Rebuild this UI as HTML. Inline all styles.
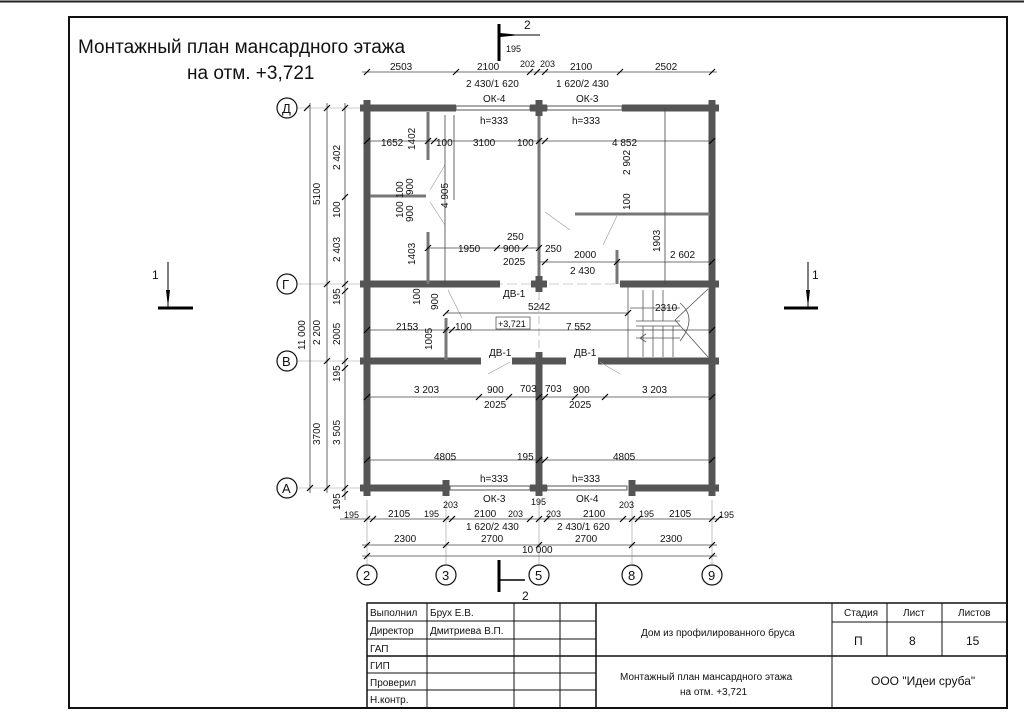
<!DOCTYPE html>
<html><head><meta charset="utf-8"><style>
html,body{margin:0;padding:0;background:#fff;}
svg{display:block;font-family:"Liberation Sans","DejaVu Sans",sans-serif;}
.d{stroke:#444;stroke-width:0.8;fill:none}
.t{stroke:#000;stroke-width:1.2}
.w{stroke:#555;stroke-width:7;fill:none}
.p{stroke:#777;stroke-width:3;fill:none}
.g{stroke:#999;stroke-width:0.6;fill:none}
text{font-size:10px;fill:#111}
.c{fill:#fff;stroke:#111;stroke-width:1.2}
.tb{stroke:#111;stroke-width:1;fill:none}
.s{font-size:9px}
</style></head><body>
<svg width="1024" height="724" viewBox="0 0 1024 724">
<rect x="0" y="0" width="1024" height="724" fill="#fff"/>
<line x1="0" y1="1.5" x2="1024" y2="1.5" stroke="#222" stroke-width="2"/>
<rect x="69" y="17" width="938" height="691" fill="none" stroke="#111" stroke-width="2"/>
<text x="78" y="53" style="font-size:19px">Монтажный план мансардного этажа</text>
<text x="187" y="79" style="font-size:19px">на отм. +3,721</text>

<!-- section marks -->
<line x1="499" y1="24" x2="499" y2="61" stroke="#000" stroke-width="3"/>
<line x1="500" y1="35" x2="540" y2="35" stroke="#000" stroke-width="1"/><polygon points="500,33 520,35 500,37" fill="#000"/>
<text x="524" y="29" style="font-size:12px">2</text>
<line x1="499" y1="560" x2="499" y2="592" stroke="#000" stroke-width="3"/>
<line x1="500" y1="580" x2="525" y2="580" stroke="#000" stroke-width="1.5"/>
<text x="522" y="600" style="font-size:12px">2</text>
<line x1="168" y1="262" x2="168" y2="307" stroke="#000" stroke-width="1"/><polygon points="166,290 168,307 170,290" fill="#000"/>
<line x1="158" y1="308" x2="193" y2="308" stroke="#000" stroke-width="3"/>
<text x="152" y="279" style="font-size:12px">1</text>
<line x1="808" y1="262" x2="808" y2="307" stroke="#000" stroke-width="1"/><polygon points="806,290 808,307 810,290" fill="#000"/>
<line x1="784" y1="308" x2="818" y2="308" stroke="#000" stroke-width="3"/>
<text x="812" y="279" style="font-size:12px">1</text>

<!-- grid lines -->
<g class="g">
<line x1="298" y1="108" x2="367" y2="108"/><line x1="298" y1="284" x2="367" y2="284"/>
<line x1="298" y1="361" x2="367" y2="361"/><line x1="298" y1="488" x2="367" y2="488"/>
<line x1="367" y1="500" x2="367" y2="564"/><line x1="446" y1="500" x2="446" y2="564"/>
<line x1="539" y1="500" x2="539" y2="564"/><line x1="632" y1="500" x2="632" y2="564"/>
<line x1="712" y1="500" x2="712" y2="564"/>
<line x1="539" y1="280" x2="539" y2="360" stroke-dasharray="8 4"/>
<line x1="367" y1="284" x2="712" y2="284" stroke-dasharray="10 4"/>
</g>
<g>
<circle class="c" cx="287" cy="108" r="10"/><text x="282" y="113" style="font-size:13px">Д</text>
<circle class="c" cx="287" cy="284" r="10"/><text x="282" y="289" style="font-size:13px">Г</text>
<circle class="c" cx="287" cy="361" r="10"/><text x="282" y="366" style="font-size:13px">В</text>
<circle class="c" cx="287" cy="488" r="10"/><text x="282" y="493" style="font-size:13px">А</text>
<circle class="c" cx="367" cy="575" r="10"/><text x="363" y="580" style="font-size:13px">2</text>
<circle class="c" cx="446" cy="575" r="10"/><text x="442" y="580" style="font-size:13px">3</text>
<circle class="c" cx="539" cy="575" r="10"/><text x="535" y="580" style="font-size:13px">5</text>
<circle class="c" cx="632" cy="575" r="10"/><text x="628" y="580" style="font-size:13px">8</text>
<circle class="c" cx="712" cy="575" r="10"/><text x="708" y="580" style="font-size:13px">9</text>
</g>

<!-- walls -->
<g class="w">
<line x1="367" y1="100" x2="367" y2="496"/><line x1="712" y1="100" x2="712" y2="496"/>
<line x1="360" y1="108" x2="456" y2="108"/><line x1="622" y1="108" x2="719" y2="108"/>
<line x1="530" y1="108" x2="547" y2="108"/>
<line x1="360" y1="284" x2="500" y2="284"/><line x1="531" y1="284" x2="547" y2="284"/><line x1="620" y1="284" x2="719" y2="284"/>
<line x1="360" y1="361" x2="481" y2="361"/><line x1="512" y1="361" x2="566" y2="361"/><line x1="598" y1="361" x2="719" y2="361"/>
<line x1="360" y1="488" x2="446" y2="488"/><line x1="530" y1="488" x2="547" y2="488"/><line x1="631" y1="488" x2="719" y2="488"/>
<line x1="539" y1="352" x2="539" y2="496"/><line x1="539" y1="276" x2="539" y2="292"/><line x1="539" y1="100" x2="539" y2="116"/>
<line x1="446" y1="480" x2="446" y2="496"/><line x1="632" y1="480" x2="632" y2="496"/>
</g>
<!-- windows -->
<g stroke="#555" stroke-width="1" fill="none">
<rect x="456" y="106" width="74" height="4"/><rect x="547" y="106" width="75" height="4"/>
<rect x="450" y="486" width="80" height="4"/><rect x="547" y="486" width="80" height="4"/>
</g>
<!-- partitions -->
<g class="p">
<line x1="428" y1="112" x2="428" y2="160"/><line x1="428" y1="232" x2="428" y2="284"/>
<line x1="370" y1="196" x2="426" y2="196"/>
<line x1="539" y1="116" x2="539" y2="276"/>
<line x1="575" y1="214" x2="710" y2="214"/>
<line x1="617" y1="250" x2="617" y2="284"/>
<line x1="446" y1="318" x2="446" y2="360"/>
</g>
<!-- door swing lines -->
<g class="g" stroke="#666">
<line x1="430" y1="190" x2="445" y2="165"/><line x1="430" y1="202" x2="445" y2="225"/>
<line x1="545" y1="212" x2="570" y2="230"/><line x1="617" y1="216" x2="603" y2="245"/>
<line x1="488" y1="374" x2="510" y2="362"/><line x1="620" y1="374" x2="600" y2="362"/>
<line x1="448" y1="290" x2="462" y2="318"/>
</g>
<!-- stairs -->
<g stroke="#555" stroke-width="0.8" fill="none">
<line x1="628" y1="284" x2="628" y2="358"/>
<line x1="636" y1="326" x2="680" y2="326"/><line x1="636" y1="321" x2="680" y2="321"/>
<line x1="643" y1="290" x2="643" y2="321"/><line x1="653" y1="290" x2="653" y2="321"/><line x1="663" y1="290" x2="663" y2="321"/>
<line x1="643" y1="326" x2="643" y2="357"/><line x1="653" y1="326" x2="653" y2="357"/><line x1="663" y1="326" x2="663" y2="357"/><line x1="673" y1="326" x2="673" y2="357"/>
<line x1="630" y1="308" x2="680" y2="308"/><line x1="636" y1="338" x2="680" y2="338"/>
<line x1="675" y1="320" x2="708" y2="357"/><line x1="675" y1="320" x2="708" y2="289"/>
<path d="M680,303 Q698,318 680,341"/>
<line x1="640" y1="338" x2="646" y2="334"/><line x1="640" y1="338" x2="646" y2="342"/>
</g>

<!-- dimension lines -->
<g class="d">
<line x1="362" y1="72" x2="717" y2="72"/>
<line x1="310" y1="103" x2="310" y2="493"/><line x1="327" y1="103" x2="327" y2="493"/><line x1="345" y1="103" x2="345" y2="500"/>
<line x1="340" y1="519" x2="719" y2="519"/>
<line x1="362" y1="545" x2="717" y2="545"/><line x1="362" y1="556" x2="717" y2="556"/>
<line x1="367" y1="141" x2="712" y2="141"/>
<line x1="428" y1="248" x2="539" y2="248"/>
<line x1="539" y1="262" x2="712" y2="262"/>
<line x1="367" y1="330" x2="712" y2="330"/>
<line x1="446" y1="313" x2="628" y2="313"/>
<line x1="367" y1="397" x2="712" y2="397"/>
<line x1="367" y1="460" x2="712" y2="460"/>
<line x1="445" y1="115" x2="445" y2="284"/><line x1="454" y1="115" x2="454" y2="200"/>
<line x1="665" y1="108" x2="665" y2="284"/>
</g>
<g class="t">
<path d="M364,75 l6,-6 M453,75 l6,-6 M527,75 l6,-6 M534,75 l6,-6 M542,75 l6,-6 M617,75 l6,-6 M709,75 l6,-6"/>
<path d="M304,111 l6,-6 M307,491 l6,-6 M324,111 l6,-6 M324,287 l6,-6 M324,364 l6,-6 M324,491 l6,-6"/>
<path d="M342,111 l6,-6 M342,200 l6,-6 M342,287 l6,-6 M342,294 l6,-6 M342,364 l6,-6 M342,371 l6,-6 M342,491 l6,-6 M342,497 l6,-6"/>
<path d="M364,522 l6,-6 M370,522 l6,-6 M443,522 l6,-6 M449,522 l6,-6 M527,522 l6,-6 M536,522 l6,-6 M544,522 l6,-6 M620,522 l6,-6 M629,522 l6,-6 M635,522 l6,-6 M709,522 l6,-6 M715,522 l6,-6"/>
<path d="M364,548 l6,-6 M443,548 l6,-6 M536,548 l6,-6 M629,548 l6,-6 M709,548 l6,-6 M364,559 l6,-6 M709,559 l6,-6"/>
<path d="M364,144 l6,-6 M425,144 l6,-6 M431,144 l6,-6 M536,144 l6,-6 M542,144 l6,-6 M709,144 l6,-6"/>
<path d="M364,333 l6,-6 M443,333 l6,-6 M449,333 l6,-6 M709,333 l6,-6 M443,316 l6,-6 M625,316 l6,-6"/>
<path d="M364,400 l6,-6 M476,400 l6,-6 M506,400 l6,-6 M536,400 l6,-6 M542,400 l6,-6 M572,400 l6,-6 M602,400 l6,-6 M709,400 l6,-6"/>
<path d="M364,463 l6,-6 M536,463 l6,-6 M542,463 l6,-6 M709,463 l6,-6"/>
<path d="M425,251 l6,-6 M494,251 l6,-6 M522,251 l6,-6 M536,251 l6,-6 M542,265 l6,-6 M614,265 l6,-6 M709,265 l6,-6"/>
</g>

<!-- dimension text -->
<text x="390" y="70">2503</text><text x="477" y="70">2100</text><text x="520" y="67" class="s">202</text><text x="540" y="67" class="s">203</text><text x="570" y="70">2100</text><text x="655" y="70">2502</text>
<text x="506" y="52" class="s">195</text>
<text x="466" y="87">2 430/1 620</text><text x="556" y="87">1 620/2 430</text>
<text x="483" y="102">ОК-4</text><text x="576" y="102">ОК-3</text>
<text x="480" y="124">h=333</text><text x="572" y="124">h=333</text>
<text x="381" y="146">1652</text><text x="436" y="146">100</text><text x="473" y="146">3100</text><text x="517" y="146">100</text><text x="612" y="146">4 852</text>
<text x="458" y="252">1950</text><text x="503" y="252">900</text><text x="507" y="240">250</text><text x="545" y="252">250</text>
<text x="503" y="265">2025</text><text x="574" y="258">2000</text><text x="570" y="274">2 430</text><text x="670" y="258">2 602</text>
<text x="503" y="297">ДВ-1</text>
<text x="528" y="310">5242</text><text x="655" y="311">2310</text>
<rect x="496" y="317" width="34" height="12" fill="none" stroke="#444" stroke-width="0.7"/><text x="498" y="327" class="s">+3,721</text>
<text x="396" y="330">2153</text><text x="455" y="330">100</text><text x="566" y="330">7 552</text>
<text x="489" y="356">ДВ-1</text><text x="574" y="356">ДВ-1</text>
<text x="414" y="393">3 203</text><text x="487" y="393">900</text><text x="520" y="392">703</text><text x="545" y="392">703</text><text x="573" y="393">900</text><text x="642" y="393">3 203</text>
<text x="484" y="408">2025</text><text x="569" y="408">2025</text>
<text x="434" y="460">4805</text><text x="517" y="460">195</text><text x="613" y="460">4805</text>
<text x="480" y="482">h=333</text><text x="572" y="482">h=333</text>
<text x="483" y="502">ОК-3</text><text x="576" y="502">ОК-4</text>
<text x="443" y="508" class="s">203</text><text x="531" y="505" class="s">195</text><text x="619" y="508" class="s">203</text>
<text x="344" y="518" class="s">195</text><text x="388" y="517">2105</text><text x="424" y="517" class="s">195</text><text x="474" y="517">2100</text><text x="508" y="517" class="s">203</text><text x="546" y="517" class="s">203</text><text x="583" y="517">2100</text><text x="639" y="517" class="s">195</text><text x="669" y="517">2105</text><text x="719" y="518" class="s">195</text>
<text x="466" y="530">1 620/2 430</text><text x="557" y="530">2 430/1 620</text>
<text x="394" y="542">2300</text><text x="481" y="542">2700</text><text x="575" y="542">2700</text><text x="660" y="542">2300</text>
<text x="522" y="553">10 000</text>
<!-- vertical texts -->
<g style="font-size:10px">
<text transform="translate(320,205) rotate(-90)">5100</text>
<text transform="translate(320,345) rotate(-90)">2 200</text>
<text transform="translate(320,445) rotate(-90)">3700</text>
<text transform="translate(305,350) rotate(-90)">11 000</text>
<text transform="translate(340,170) rotate(-90)">2 402</text>
<text transform="translate(340,218) rotate(-90)">100</text>
<text transform="translate(340,262) rotate(-90)">2 403</text>
<text transform="translate(340,305) rotate(-90)">195</text>
<text transform="translate(340,345) rotate(-90)">2005</text>
<text transform="translate(340,382) rotate(-90)">195</text>
<text transform="translate(340,445) rotate(-90)">3 505</text>
<text transform="translate(340,510) rotate(-90)">195</text>
<text transform="translate(415,150) rotate(-90)">1402</text>
<text transform="translate(413,195) rotate(-90)">900</text>
<text transform="translate(403,198) rotate(-90)">100</text>
<text transform="translate(403,218) rotate(-90)">100</text>
<text transform="translate(413,222) rotate(-90)">900</text>
<text transform="translate(448,208) rotate(-90)">4 905</text>
<text transform="translate(415,265) rotate(-90)">1403</text>
<text transform="translate(630,175) rotate(-90)">2 902</text>
<text transform="translate(630,210) rotate(-90)">100</text>
<text transform="translate(660,252) rotate(-90)">1903</text>
<text transform="translate(420,305) rotate(-90)">100</text>
<text transform="translate(438,310) rotate(-90)">900</text>
<text transform="translate(432,350) rotate(-90)">1005</text>
</g>

<!-- title block -->
<g class="tb">
<rect x="367" y="603" width="640" height="105" stroke-width="1.5"/>
<line x1="427" y1="603" x2="427" y2="708"/><line x1="514" y1="603" x2="514" y2="708"/>
<line x1="560" y1="603" x2="560" y2="708"/><line x1="596" y1="603" x2="596" y2="708" stroke-width="1.5"/>
<line x1="367" y1="621" x2="596" y2="621"/><line x1="367" y1="639" x2="596" y2="639"/>
<line x1="367" y1="656" x2="1007" y2="656" stroke-width="1.5"/><line x1="367" y1="673" x2="596" y2="673"/>
<line x1="367" y1="690" x2="596" y2="690"/>
<line x1="832" y1="603" x2="832" y2="708"/><line x1="887" y1="603" x2="887" y2="656"/><line x1="942" y1="603" x2="942" y2="656"/>
<line x1="832" y1="622" x2="1007" y2="622"/>
</g>
<g style="font-size:10px">
<text x="370" y="616">Выполнил</text><text x="430" y="616">Брух Е.В.</text>
<text x="370" y="634">Директор</text><text x="430" y="634">Дмитриева В.П.</text>
<text x="370" y="652">ГАП</text><text x="370" y="669">ГИП</text>
<text x="370" y="686">Проверил</text><text x="370" y="703">Н.контр.</text>
<text x="641" y="636">Дом из профилированного бруса</text>
<text x="620" y="680">Монтажный план мансардного этажа</text>
<text x="680" y="695">на отм. +3,721</text>
<text x="844" y="616">Стадия</text><text x="903" y="616">Лист</text><text x="958" y="616">Листов</text>
<text x="854" y="645" style="font-size:12px">П</text><text x="909" y="645" style="font-size:12px">8</text><text x="966" y="645" style="font-size:12px">15</text>
<text x="871" y="685" style="font-size:12px">ООО "Идеи сруба"</text>
</g>
</svg>
</body></html>
